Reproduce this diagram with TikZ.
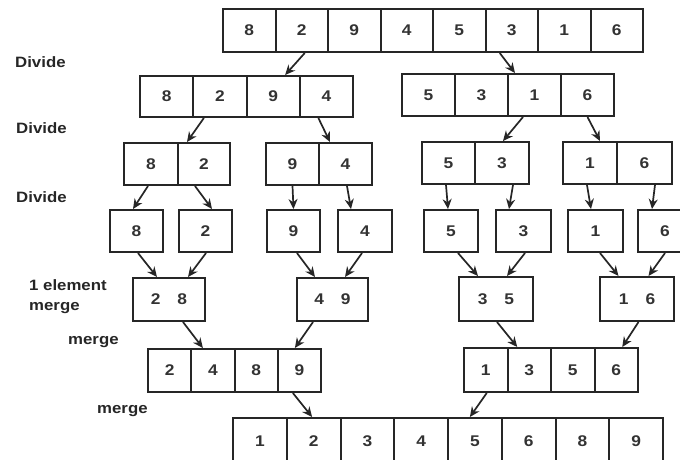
\documentclass[tikz,border=0pt]{standalone}
\usepackage{fontspec}
\setmainfont{Liberation Sans}[FakeStretch=1.12]
\usetikzlibrary{arrows.meta}
\begin{document}
\begin{tikzpicture}[x=1pt,y=-1pt,
  cell/.style={draw=black!85, line width=2pt, inner sep=0pt, minimum width=#1pt,
    font=\fontsize{15.5}{18}\selectfont\bfseries, text=black!80},
  cell/.default=53,
  hh/.style={minimum height=#1pt},
  arr/.style={draw=black!85, line width=1.7pt, -{Stealth[length=10pt,width=9pt]}},
  lbl/.style={anchor=west, inner sep=0pt, font=\fontsize{15}{20}\selectfont\bfseries, text=black!85, align=left}
]
\useasboundingbox[fill=white] (0,0) rectangle (680,459);
% row 1
\foreach \v [count=\i] in {8,2,9,4,5,3,1,6}
  \node[cell=52.5, hh=43] (t\i) at ({223+52.5*(\i-0.5)},30.5) {\v};
% row 2
\foreach \v [count=\i] in {8,2,9,4}
  \node[cell=53.25, hh=41] (a\i) at ({140+53.25*(\i-0.5)},96.5) {\v};
\foreach \v [count=\i] in {5,3,1,6}
  \node[cell=53, hh=42] (b\i) at ({402+53*(\i-0.5)},95) {\v};
% row 3
\node[cell=54, hh=42] (c1) at (151,164) {8};
\node[cell=52, hh=42] (c2) at (204,164) {2};
\node[cell=53, hh=42] (d1) at (292.5,164) {9};
\node[cell=53, hh=42] (d2) at (345.5,164) {4};
\node[cell=53, hh=42] (e1) at (448.5,163) {5};
\node[cell=54, hh=42] (e2) at (502,163) {3};
\node[cell=54, hh=42] (f1) at (590,163) {1};
\node[cell=55, hh=42] (f2) at (644.5,163) {6};
% row 4
\node[cell=53, hh=42] (g1) at (136.5,231) {8};
\node[cell=53, hh=42] (g2) at (205.5,231) {2};
\node[cell=53, hh=42] (g3) at (293.5,231) {9};
\node[cell=54, hh=42] (g4) at (365,231) {4};
\node[cell=54, hh=42] (g5) at (451,231) {5};
\node[cell=55, hh=42] (g6) at (523.5,231) {3};
\node[cell=55, hh=42] (g7) at (595.5,231) {1};
\node[cell=54, hh=42] (g8) at (665,231) {6};
% row 5
\node[cell=72, hh=43] (m1) at (169,299.5) {2\hspace{17pt}8};
\node[cell=71, hh=43] (m2) at (332.5,299.5) {4\hspace{17pt}9};
\node[cell=74, hh=44] (m3) at (496,299) {3\hspace{17pt}5};
\node[cell=74, hh=44] (m4) at (637,299) {1\hspace{17pt}6};
% row 6
\foreach \v [count=\i] in {2,4,8,9}
  \node[cell=43.25, hh=43] (p\i) at ({148+43.25*(\i-0.5)},370.5) {\v};
\foreach \v [count=\i] in {1,3,5,6}
  \node[cell=43.5, hh=44] (q\i) at ({464+43.5*(\i-0.5)},370) {\v};
% row 7
\foreach \v [count=\i] in {1,2,3,4,5,6,8,9}
  \node[cell=53.75, hh=46] (s\i) at ({233+53.75*(\i-0.5)},441) {\v};
% labels
\node[lbl] (L1) at (15,62) {Divide};
\node[lbl] (L2) at (16,128) {Divide};
\node[lbl] (L3) at (16,197) {Divide};
\node[lbl] (L4) at (29,297) {1 element\\merge};
\node[lbl] (L5) at (68,342) {merge};
\node[lbl] (L6) at (97,411) {merge};
% arrows
\draw[arr] ([xshift=3pt]t2.south) -- ([xshift=12pt]a3.north);
\draw[arr] ([xshift=-12pt]t6.south) -- ([xshift=-19.5pt]b3.north);
\draw[arr] ([xshift=-16pt]a2.south) -- ([xshift=-17pt]c2.north);
\draw[arr] ([xshift=-8pt]a4.south) -- ([xshift=-15.5pt]d2.north);
\draw[arr] ([xshift=-11.5pt]b3.south) -- ([xshift=1pt]e2.north);
\draw[arr] ([xshift=0pt]b4.south) -- ([xshift=10pt]f1.north);
\draw[arr] ([xshift=-3pt]c1.south) -- ([xshift=-3.5pt]g1.north);
\draw[arr] ([xshift=-9pt]c2.south) -- ([xshift=6.5pt]g2.north);
\draw[arr] ([xshift=0pt]d1.south) -- ([xshift=0pt]g3.north);
\draw[arr] ([xshift=1.5pt]d2.south) -- ([xshift=-14pt]g4.north);
\draw[arr] ([xshift=-2.5pt]e1.south) -- ([xshift=-3pt]g5.north);
\draw[arr] ([xshift=11pt]e2.south) -- ([xshift=-14.5pt]g6.north);
\draw[arr] ([xshift=-3pt]f1.south) -- ([xshift=-4.5pt]g7.north);
\draw[arr] ([xshift=10.5pt]f2.south) -- ([xshift=-13pt]g8.north);
\draw[arr] ([xshift=1.5pt]g1.south) -- ([xshift=-12pt]m1.north);
\draw[arr] ([xshift=0.5pt]g2.south) -- ([xshift=19pt]m1.north);
\draw[arr] ([xshift=3.5pt]g3.south) -- ([xshift=-17.5pt]m2.north);
\draw[arr] ([xshift=-3pt]g4.south) -- ([xshift=12.5pt]m2.north);
\draw[arr] ([xshift=7pt]g5.south) -- ([xshift=-18pt]m3.north);
\draw[arr] ([xshift=1.5pt]g6.south) -- ([xshift=11pt]m3.north);
\draw[arr] ([xshift=4.5pt]g7.south) -- ([xshift=-18.5pt]m4.north);
\draw[arr] ([xshift=0pt]g8.south) -- ([xshift=11.5pt]m4.north);
\draw[arr] ([xshift=14pt]m1.south) -- ([xshift=-10pt]p2.north);
\draw[arr] ([xshift=-19.5pt]m2.south) -- ([xshift=-4.5pt]p4.north);
\draw[arr] ([xshift=1pt]m3.south) -- ([xshift=-12pt]q2.north);
\draw[arr] ([xshift=1.5pt]m4.south) -- ([xshift=6pt]q4.north);
\draw[arr] ([xshift=-6.5pt]p4.south) -- ([xshift=-1.5pt]s2.north);
\draw[arr] ([xshift=1pt]q1.south) -- ([xshift=-5pt]s5.north);
\end{tikzpicture}
\end{document}
